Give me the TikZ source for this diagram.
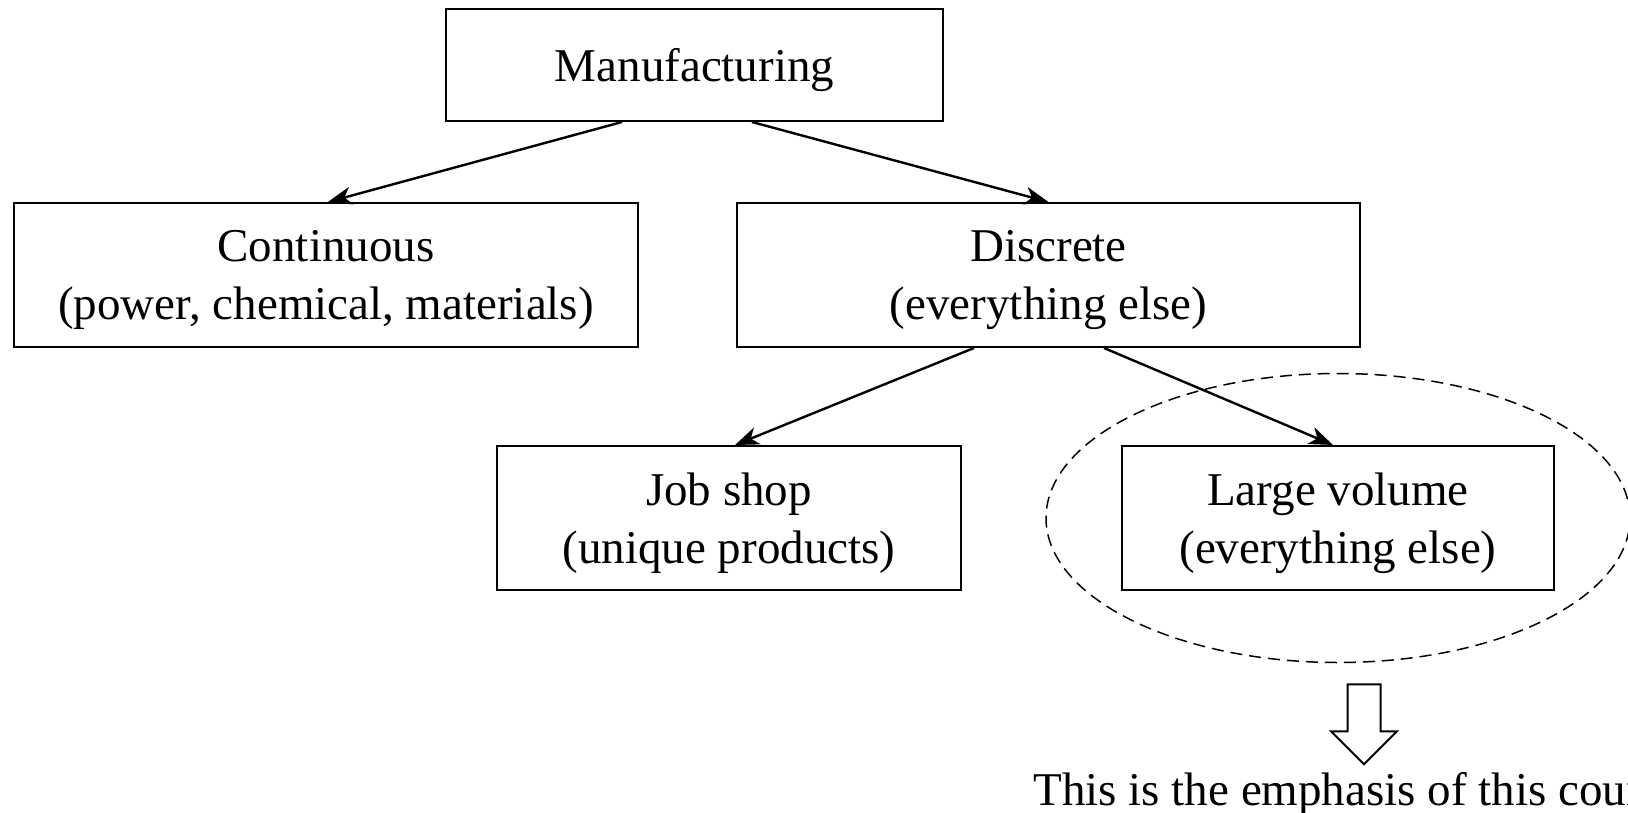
\documentclass[tikz,border=0pt]{standalone}
\usepackage{fontspec}
\setmainfont{Liberation Serif}
\usepackage{tikz}
\usetikzlibrary{shapes,arrows.meta,positioning,calc}
\tikzset{
  basic-style/.style = {
    rectangle, draw, line width=1pt,
    font=\fontsize{23.5pt}{29pt}\selectfont,
    align=center,
    text depth=-2pt,
    minimum height=#1,
    inner sep=2pt
  },
  basic-style/.default = 72pt,
  top-style/.style = {
    basic-style=56pt,
    minimum width=248.5pt
  },
  wide-style/.style = {
    basic-style,
    minimum width=312pt
  },
  job-style/.style = {
    basic-style,
    minimum width=232pt
  },
  volume-style/.style = {
    basic-style,
    minimum width=216pt
  },
  focus-style/.style = {
    ellipse, draw, line width=0.75pt, dash pattern=on 6pt off 3.5pt,
    minimum width=292pt, minimum height=144.5pt, inner sep=0pt
  },
  hollow-style/.style = {
    draw, line width=1pt, fill=white, line join=miter
  },
  note-style/.style = {
    font=\fontsize{23.5pt}{29pt}\selectfont, inner sep=0pt, anchor=base west
  },
  every edge/.style = {draw, -{Stealth[length=12pt,width=9pt,inset=3.5pt]}, line width=1.2pt}
}

\begin{document}
\begin{tikzpicture}
    \useasboundingbox (0,0) rectangle (814pt,-406.5pt);

    %%% levels
    \node[top-style] (manu) at (347.25pt,-32.5pt) {Manufacturing};
    \node[wide-style,below=40pt of manu,xshift=-184.25pt] (cont) {Continuous\\(power, chemical, materials)};
    \node[wide-style,right=48.5pt of cont,minimum width=311.5pt] (disc) {Discrete\\(everything else)};
    \node[job-style,below=48.5pt of disc,xshift=-159.75pt] (job) {Job shop\\(unique products)};
    \node[volume-style,right=79.5pt of job] (large) {Large volume\\(everything else)};

    %%% emphasis
    \node[focus-style] (focus) at (large) {};
    \coordinate (tip) at ([xshift=13pt,yshift=-50.5pt]focus.south);
    \draw[hollow-style] ([xshift=-8.25pt,yshift=40pt]tip) -- ++(16.5pt,0) -- ++(0,-23.5pt)
      -- ++(8.25pt,0) -- (tip) -- ++(-16.5pt,16.5pt) -- ++(8.25pt,0) -- cycle;
    \node[note-style] (note) at ([xshift=-165.5pt,yshift=-20.5pt]tip) {This is the emphasis of this course};

    %%% arrows
    % manufacturing to continuous
    \path ([xshift=-36.25pt]manu.south) edge ([xshift=1pt]cont.north);
    % manufacturing to discrete
    \path ([xshift=28.75pt]manu.south) edge (disc.north);
    % discrete to job shop
    \path ([xshift=-37.25pt]disc.south) edge ([xshift=3pt]job.north);
    % discrete to large volume
    \path ([xshift=27.75pt]disc.south) edge ([xshift=-2.5pt]large.north);
  \end{tikzpicture}
\end{document}
